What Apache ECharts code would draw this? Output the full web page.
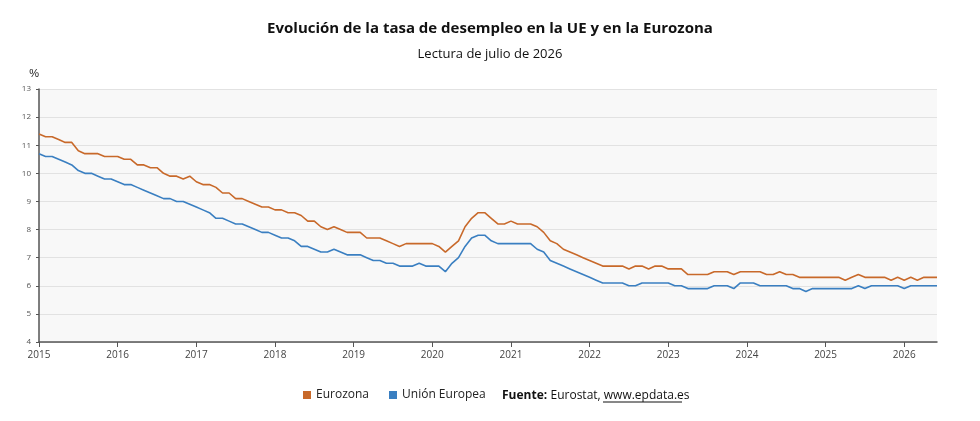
<!DOCTYPE html>
<html><head><meta charset="utf-8">
<script src="https://cdn.jsdelivr.net/npm/echarts@6/dist/echarts.min.js"></script>
<style>html,body{margin:0;padding:0;background:#fff}#c{width:980px;height:421px}</style>
</head><body><div id="c"></div>
<script>
const years = [2015,2016,2017,2018,2019,2020,2021,2022,2023,2024,2025,2026];
const eurozona = [
11.4,11.3,11.3,11.2,11.1,11.1,10.8,10.7,10.7,10.7,10.6,10.6,
10.6,10.5,10.5,10.3,10.3,10.2,10.2,10.0,9.9,9.9,9.8,9.9,
9.7,9.6,9.6,9.5,9.3,9.3,9.1,9.1,9.0,8.9,8.8,8.8,
8.7,8.7,8.6,8.6,8.5,8.3,8.3,8.1,8.0,8.1,8.0,7.9,
7.9,7.9,7.7,7.7,7.7,7.6,7.5,7.4,7.5,7.5,7.5,7.5,
7.5,7.4,7.2,7.4,7.6,8.1,8.4,8.6,8.6,8.4,8.2,8.2,
8.3,8.2,8.2,8.2,8.1,7.9,7.6,7.5,7.3,7.2,7.1,7.0,
6.9,6.8,6.7,6.7,6.7,6.7,6.6,6.7,6.7,6.6,6.7,6.7,
6.6,6.6,6.6,6.4,6.4,6.4,6.4,6.5,6.5,6.5,6.4,6.5,
6.5,6.5,6.5,6.4,6.4,6.5,6.4,6.4,6.3,6.3,6.3,6.3,
6.3,6.3,6.3,6.2,6.3,6.4,6.3,6.3,6.3,6.3,6.2,6.3,
6.2,6.3,6.2,6.3,6.3,6.3];
const unionEuropea = [
10.7,10.6,10.6,10.5,10.4,10.3,10.1,10.0,10.0,9.9,9.8,9.8,
9.7,9.6,9.6,9.5,9.4,9.3,9.2,9.1,9.1,9.0,9.0,8.9,
8.8,8.7,8.6,8.4,8.4,8.3,8.2,8.2,8.1,8.0,7.9,7.9,
7.8,7.7,7.7,7.6,7.4,7.4,7.3,7.2,7.2,7.3,7.2,7.1,
7.1,7.1,7.0,6.9,6.9,6.8,6.8,6.7,6.7,6.7,6.8,6.7,
6.7,6.7,6.5,6.8,7.0,7.4,7.7,7.8,7.8,7.6,7.5,7.5,
7.5,7.5,7.5,7.5,7.3,7.2,6.9,6.8,6.7,6.6,6.5,6.4,
6.3,6.2,6.1,6.1,6.1,6.1,6.0,6.0,6.1,6.1,6.1,6.1,
6.1,6.0,6.0,5.9,5.9,5.9,5.9,6.0,6.0,6.0,5.9,6.1,
6.1,6.1,6.0,6.0,6.0,6.0,6.0,5.9,5.9,5.8,5.9,5.9,
5.9,5.9,5.9,5.9,5.9,6.0,5.9,6.0,6.0,6.0,6.0,6.0,
5.9,6.0,6.0,6.0,6.0,6.0];
const months = [];
years.forEach(y=>{for(let m=1;m<=12;m++) months.push(y+'-'+String(m).padStart(2,'0'));});
const cats = months.slice(0, eurozona.length);
const chart = echarts.init(document.getElementById('c'));
const F = '"Open Sans", "DejaVu Sans", sans-serif';
chart.setOption({
  animation:false,
  title:[{text:'Evolución de la tasa de desempleo en la UE y en la Eurozona',left:'center',top:16,
    textStyle:{fontSize:15,fontWeight:'bold',color:'#111',fontFamily:F}},
    {text:'Lectura de julio de 2026',left:'center',top:43,textStyle:{fontSize:13,fontWeight:'normal',color:'#111',fontFamily:F}}],
  legend:{top:384,left:298,itemWidth:8,itemHeight:8,icon:'rect',itemGap:20,
    textStyle:{fontSize:12,color:'#222',fontFamily:F},data:['Eurozona','Unión Europea']},
  graphic:[{type:'text',x:502,y:396,style:{textVerticalAlign:'middle',verticalAlign:'middle',rich:{b:{fontWeight:'bold',fontSize:12,fontFamily:F,fill:'#111'},n:{fontSize:12,fontFamily:F,fill:'#111'}},
    text:'{b|Fuente:} {n|Eurostat, www.epdata.es}'}},
    {type:'line',x:603,y:402,shape:{x1:0,y1:0,x2:79,y2:0},style:{stroke:'#111',lineWidth:1}}],
  grid:{left:39,right:43,top:89,bottom:79,show:true,backgroundColor:'#f8f8f8',borderWidth:0},
  xAxis:{type:'category',data:cats,boundaryGap:false,
    axisLine:{lineStyle:{color:'#555',width:1.5}},
    axisTick:{alignWithLabel:true,interval:(i,v)=>v.endsWith('-01'),lineStyle:{color:'#555'}},
    axisLabel:{interval:(i,v)=>v.endsWith('-01'),formatter:v=>v.slice(0,4),fontSize:10,color:'#444',fontFamily:F},
    splitLine:{show:false}},
  yAxis:{type:'value',min:4,max:13,interval:1,name:'%',nameLocation:'end',nameGap:10,
    nameTextStyle:{fontSize:11,color:'#222',align:'right'},
    axisLine:{show:true,lineStyle:{color:'#555',width:1.5}},axisTick:{show:true,length:3,lineStyle:{color:'#555'}},
    axisLabel:{fontSize:8,color:'#555',fontFamily:F},
    splitLine:{lineStyle:{color:'#e2e2e2'}}},
  series:[
    {name:'Eurozona',type:'line',data:eurozona,showSymbol:false,lineStyle:{width:1.6,color:'#c8692a'},itemStyle:{color:'#c8692a'}},
    {name:'Unión Europea',type:'line',data:unionEuropea,showSymbol:false,lineStyle:{width:1.6,color:'#3a7fc1'},itemStyle:{color:'#3a7fc1'}}
  ]
});
</script></body></html>
